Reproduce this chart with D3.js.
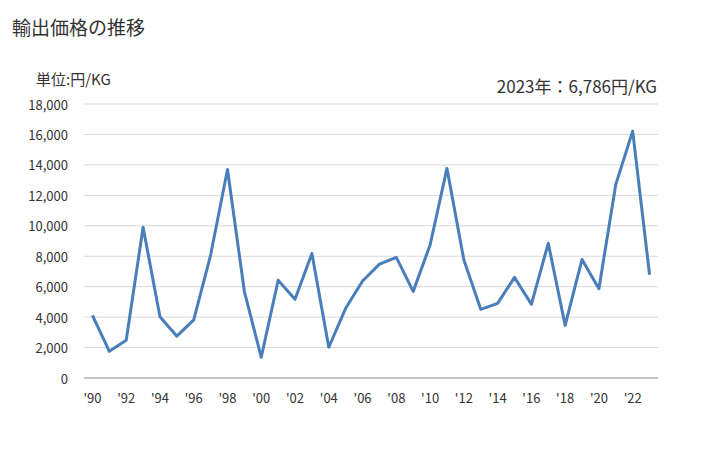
<!DOCTYPE html>
<html>
<head>
<meta charset="utf-8">
<script src="https://cdn.jsdelivr.net/npm/d3@7"></script>
<style>
  body { margin: 0; background: #fff; }
  text { font-family: "Noto Sans CJK JP", "Noto Sans", sans-serif; fill: #333; }
</style>
</head>
<body>
<div id="chart"></div>
<script>
// years and export price (yen/kg)
var years = d3.range(1990, 2024);
var prices = [4120, 1750, 2480, 9900, 4020, 2750, 3820, 8080, 13700, 5680,
              1360, 6420, 5170, 8180, 2020, 4580, 6370, 7480, 7920, 5690,
              8740, 13770, 7760, 4510, 4900, 6610, 4840, 8850, 3460, 7790,
              5870, 12720, 16220, 6786];
var yTicks = d3.range(0, 18001, 2000);
var xTickYears = d3.range(1990, 2024, 2);

var width = 728, height = 450;
var margin = {top: 104, right: 70, bottom: 72, left: 84};

var svg = d3.select("#chart")
  .append("svg")
    .attr("width", width)
    .attr("height", height);

var x = d3.scaleBand()
  .domain(years)
  .range([margin.left, width - margin.right]);

var y = d3.scaleLinear()
  .domain([0, 18000])
  .range([height - margin.bottom, margin.top]);

// gridlines
svg.append("g")
  .selectAll("line")
  .data(yTicks.filter(function(d) { return d > 0; }))
  .enter()
  .append("line")
    .attr("x1", margin.left)
    .attr("x2", width - margin.right)
    .attr("y1", function(d) { return y(d); })
    .attr("y2", function(d) { return y(d); })
    .style("stroke", "#d9d9d9")
    .style("stroke-width", 1);

// baseline
svg.append("line")
  .attr("x1", margin.left)
  .attr("x2", width - margin.right)
  .attr("y1", y(0))
  .attr("y2", y(0))
  .style("stroke", "#898989")
  .style("stroke-width", 1);

// y labels
svg.append("g")
  .selectAll("text")
  .data(yTicks)
  .enter()
  .append("text")
    .attr("x", 68)
    .attr("y", function(d) { return y(d); })
    .attr("text-anchor", "end")
    .attr("dominant-baseline", "central")
    .style("font-size", "13px")
    .text(function(d) { return d3.format(",")(d); });

// x labels
svg.append("g")
  .selectAll("text")
  .data(xTickYears)
  .enter()
  .append("text")
    .attr("x", function(d) { return x(d) + x.bandwidth() / 2; })
    .attr("y", 397)
    .attr("text-anchor", "middle")
    .attr("dominant-baseline", "central")
    .style("font-size", "13px")
    .text(function(d) { return "'" + String(d).slice(2); });

// line
var line = d3.line()
  .x(function(d, i) { return x(years[i]) + x.bandwidth() / 2; })
  .y(function(d) { return y(d); });

svg.append("path")
  .datum(prices)
  .attr("d", line)
  .attr("fill", "none")
  .style("stroke", "#4a7ebb")
  .style("stroke-width", 3)
  .style("stroke-linejoin", "round");

// titles
svg.append("text")
  .attr("x", 12)
  .attr("y", 35)
  .style("font-size", "19px")
  .text("輸出価格の推移");

svg.append("text")
  .attr("x", 36)
  .attr("y", 85)
  .style("font-size", "15px")
  .text("単位:円/KG");

svg.append("text")
  .attr("x", 657)
  .attr("y", 93)
  .attr("text-anchor", "end")
  .style("font-size", "17px")
  .text("2023年：" + d3.format(",")(prices[prices.length - 1]) + "円/KG");
</script>
</body>
</html>
